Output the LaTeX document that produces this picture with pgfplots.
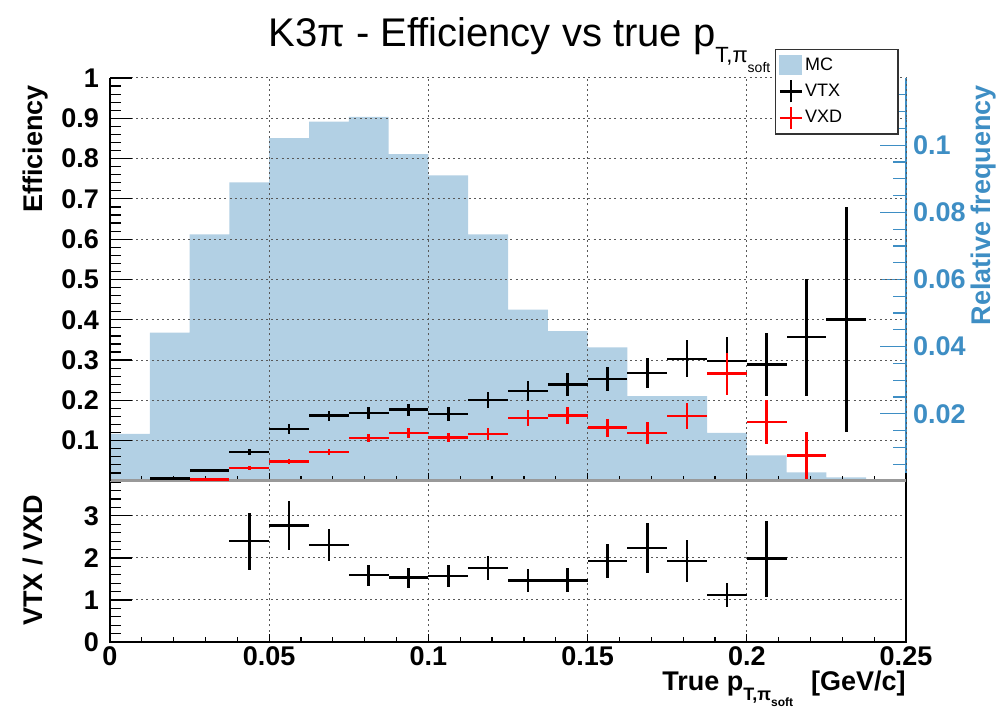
\documentclass[border=0pt]{standalone}
\usepackage{fontspec}
\setmainfont{Liberation Sans}
\usepackage{pgfplots}
\pgfplotsset{compat=1.18}
\definecolor{mcblue}{RGB}{178,208,228}
\definecolor{axblue}{RGB}{62,142,196}
\newcommand{\tkfont}{\fontsize{13.5}{15}\selectfont\bfseries}
\newcommand{\legtext}[1]{\rlap{#1}\rule{44pt}{0pt}}

\pgfplotsset{
  rootbase/.style={
    scale only axis, width=398pt,
    xmin=0, xmax=0.25,
    tick align=inside,
    ticklabel style={font=\tkfont},
    major grid style={black!65, line width=0.5pt, dash pattern=on 1pt off 1.6pt},
    /pgf/number format/assume math mode=true,
  },
}

\begin{document}
\begin{tikzpicture}
\path[use as bounding box] (0,0) rectangle (500pt,355.5pt);

% ---------- lower pad: ratio ----------
\begin{axis}[rootbase,
  at={(55pt,34.5pt)}, anchor=south west, height=80.5pt,
  ymin=0, ymax=3.83,
  axis line style={black, line width=1pt},
  tick pos=left,
  major tick length=11pt, minor tick length=5.5pt,
  xtick={0,0.05,0.1,0.15,0.2,0.25},
  xticklabels={0,0.05,0.1,0.15,0.2,0.25},
  xtick style={draw=none},
  ytick={0,1,2,3}, yticklabels={0,1,2,3},
  minor ytick={0.2,0.4,0.6,0.8,1.2,1.4,1.6,1.8,2.2,2.4,2.6,2.8,3.2,3.4,3.6,3.8},
  ytick style={black, line width=0.6pt},
  yticklabel style={xshift=-2pt},
  xticklabel style={yshift=1pt},
  xmajorgrids, ymajorgrids,
  xlabel={True p\raisebox{-5pt}{\fontsize{9}{9}\selectfont T,π\raisebox{-3pt}{\fontsize{6}{6}\selectfont soft}}\hspace{9pt}[GeV/c]},
  xlabel style={at={(rel axis cs:1,0)}, anchor=base east, inner sep=0pt, yshift=-24pt, font=\tkfont},
  ylabel={VTX / VXD},
  ylabel style={at={(axis description cs:-0.0854,0.957)}, anchor=base east, font=\tkfont},
]
\addplot[draw=none, mark=none,
  error bars/.cd, x dir=both, x explicit, y dir=both, y explicit,
  error mark=none, error bar style={draw=black, line width=1.3pt}]
  table[x=x, y=y, x error=ex, y error=ey] {
x        ex       y     ey
0.04375  0.00625  2.40  0.68
0.05625  0.00625  2.77  0.59
0.06875  0.00625  2.31  0.38
0.08125  0.00625  1.59  0.25
0.09375  0.00625  1.53  0.24
0.10625  0.00625  1.57  0.26
0.11875  0.00625  1.76  0.28
0.13125  0.00625  1.47  0.27
0.14375  0.00625  1.47  0.28
0.15625  0.00625  1.93  0.41
0.16875  0.00625  2.24  0.60
0.18125  0.00625  1.93  0.50
0.19375  0.00625  1.12  0.29
0.20625  0.00625  1.98  0.91
};
\end{axis}

% short x ticks of the lower pad
\begin{axis}[rootbase,
  at={(55pt,34.5pt)}, anchor=south west, height=80.5pt,
  ymin=0, ymax=1,
  axis y line=none, axis x line*=bottom,
  x axis line style={black, line width=1pt},
  major tick length=4pt, minor tick length=2.5pt,
  xtick={0,0.05,0.1,0.15,0.2,0.25}, xticklabels={},
  minor xtick={0.01,0.02,0.03,0.04,0.06,0.07,0.08,0.09,0.11,0.12,0.13,0.14,0.16,0.17,0.18,0.19,0.21,0.22,0.23,0.24},
  xtick style={black, line width=0.6pt},
]
\end{axis}

% ---------- upper pad: MC histogram on the right axis ----------
\begin{axis}[rootbase,
  at={(55pt,115pt)}, anchor=south west, height=201.5pt,
  ymin=0, ymax=0.12,
  axis x line=none, axis y line*=right,
  y axis line style={axblue, line width=1pt},
  major tick length=13pt, minor tick length=6.5pt,
  ytick={0.02,0.04,0.06,0.08,0.1},
  yticklabels={0.02,0.04,0.06,0.08,0.1},
  minor ytick={0.005,0.01,0.015,0.025,0.03,0.035,0.045,0.05,0.055,0.065,0.07,0.075,0.085,0.09,0.095,0.105,0.11,0.115},
  ytick style={axblue, line width=0.6pt},
  yticklabel style={axblue},
  ylabel={Relative frequency},
  ylabel style={at={(axis description cs:1.106,1)}, anchor=base east, font=\tkfont, text=axblue},
]
\addplot[ybar interval, fill=mcblue, draw=none] coordinates {
  (0,0.0140) (0.0125,0.0442) (0.025,0.0734) (0.0375,0.0889)
  (0.05,0.1021) (0.0625,0.1070) (0.075,0.1084) (0.0875,0.0973)
  (0.1,0.0910) (0.1125,0.0734) (0.125,0.0510) (0.1375,0.0446)
  (0.15,0.0398) (0.1625,0.0253) (0.175,0.0253) (0.1875,0.0143)
  (0.2,0.0076) (0.2125,0.0026) (0.225,0.0011) (0.2375,0.0000)
  (0.25,0)
};
\end{axis}

% x ticks and x grid of the upper pad
\begin{axis}[rootbase,
  at={(55pt,115pt)}, anchor=south west, height=201.5pt,
  ymin=0, ymax=1,
  axis y line=none, axis x line*=bottom,
  x axis line style={black!40, line width=1.5pt},
  major tick length=4pt, minor tick length=2.5pt,
  xtick={0,0.05,0.1,0.15,0.2,0.25}, xticklabels={},
  minor xtick={0.01,0.02,0.03,0.04,0.06,0.07,0.08,0.09,0.11,0.12,0.13,0.14,0.16,0.17,0.18,0.19,0.21,0.22,0.23,0.24},
  xtick style={black, line width=0.6pt},
  xmajorgrids,
]
\end{axis}

% efficiencies on the left axis
\begin{axis}[rootbase,
  at={(55pt,115pt)}, anchor=south west, height=201.5pt,
  ymin=0, ymax=1,
  axis x line=none, axis y line*=left,
  y axis line style={black, line width=1pt},
  major tick length=11pt, minor tick length=5.5pt,
  ytick={0.1,0.2,0.3,0.4,0.5,0.6,0.7,0.8,0.9,1},
  yticklabels={0.1,0.2,0.3,0.4,0.5,0.6,0.7,0.8,0.9,1},
  minor ytick={0.02,0.04,0.06,0.08,0.12,0.14,0.16,0.18,0.22,0.24,0.26,0.28,0.32,0.34,0.36,0.38,0.42,0.44,0.46,0.48,0.52,0.54,0.56,0.58,0.62,0.64,0.66,0.68,0.72,0.74,0.76,0.78,0.82,0.84,0.86,0.88,0.92,0.94,0.96,0.98},
  ytick style={black, line width=0.6pt},
  yticklabel style={xshift=-2pt},
  ymajorgrids,
  ylabel={Efficiency},
  ylabel style={at={(axis description cs:-0.0854,1)}, anchor=base east, font=\tkfont},
  legend style={at={(rel axis cs:0.8355,1.072)}, anchor=north west,
    draw=black!80, line width=0.6pt, fill=white,
    font=\fontsize{9}{10}\selectfont, row sep=1pt,
    inner xsep=1.5pt, inner ysep=2pt,
    nodes={inner xsep=1pt}},
  legend cell align=left,
]
\addlegendimage{legend image code/.code={\fill[mcblue] (0pt,-4.5pt) rectangle (11pt,5pt);}}
\addlegendentry{\legtext{MC}}
\addlegendimage{legend image code/.code={\draw[black, line width=1.2pt] (0pt,0pt)--(11pt,0pt) (5.5pt,-5.5pt)--(5.5pt,5.5pt);}}
\addlegendentry{\legtext{VTX}}
\addlegendimage{legend image code/.code={\draw[red, line width=1.2pt] (0pt,0pt)--(11pt,0pt) (5.5pt,-5.5pt)--(5.5pt,5.5pt);}}
\addlegendentry{\legtext{VXD}}

% VTX
\addplot[draw=none, mark=none, forget plot,
  error bars/.cd, x dir=both, x explicit, y dir=both, y explicit,
  error mark=none, error bar style={draw=black, line width=1.3pt}]
  table[x=x, y=y, x error=ex, y error=ey] {
x        ex       y       ey
0.01875  0.00625  0.006   0.003
0.03125  0.00625  0.026   0.004
0.04375  0.00625  0.0715  0.008
0.05625  0.00625  0.129   0.012
0.06875  0.00625  0.162   0.012
0.08125  0.00625  0.169   0.014
0.09375  0.00625  0.177   0.015
0.10625  0.00625  0.166   0.017
0.11875  0.00625  0.201   0.020
0.13125  0.00625  0.223   0.025
0.14375  0.00625  0.239   0.029
0.15625  0.00625  0.2535  0.030
0.16875  0.00625  0.268   0.037
0.18125  0.00625  0.303   0.046
0.19375  0.00625  0.298   0.060
0.20625  0.00625  0.289   0.077
0.21875  0.00625  0.357   0.145
0.23125  0.00625  0.401   0.280
};
% VXD
\addplot[draw=none, mark=none, forget plot,
  error bars/.cd, x dir=both, x explicit, y dir=both, y explicit,
  error mark=none, error bar style={draw=red, line width=1.3pt}]
  table[x=x, y=y, x error=ex, y error=ey] {
x        ex       y       ey
0.03125  0.00625  0.004   0.002
0.04375  0.00625  0.032   0.005
0.05625  0.00625  0.048   0.006
0.06875  0.00625  0.0715  0.008
0.08125  0.00625  0.107   0.010
0.09375  0.00625  0.119   0.012
0.10625  0.00625  0.108   0.012
0.11875  0.00625  0.1166  0.014
0.13125  0.00625  0.156   0.020
0.14375  0.00625  0.1625  0.021
0.15625  0.00625  0.132   0.022
0.16875  0.00625  0.1195  0.028
0.18125  0.00625  0.161   0.033
0.19375  0.00625  0.266   0.052
0.20625  0.00625  0.146   0.055
0.21875  0.00625  0.063   0.058
};
\end{axis}

% title
\node[anchor=base west, inner sep=0pt] at (134pt,332pt)
  {\fontsize{20}{21}\selectfont K3π - Efficiency vs true p\raisebox{-8pt}{\fontsize{11}{11}\selectfont T,π\raisebox{-5pt}{\fontsize{7}{7}\selectfont soft}}};
\end{tikzpicture}
\end{document}
